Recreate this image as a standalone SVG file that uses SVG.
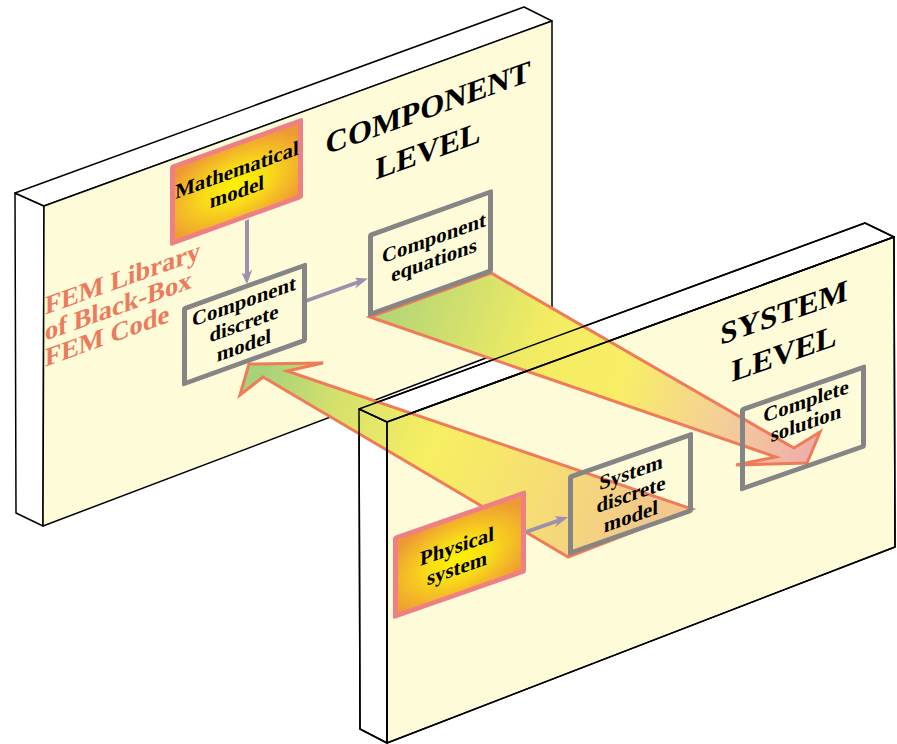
<svg xmlns="http://www.w3.org/2000/svg" width="897" height="744" viewBox="0 0 897 744">
<defs>
<style>
.face{fill:#FEFBD8;stroke:#000;stroke-width:1.5;stroke-linejoin:round}
.side{fill:#fff;stroke:#000;stroke-width:1.5;stroke-linejoin:round}
.edge{fill:none;stroke:#000;stroke-width:1.5;stroke-linejoin:round}
.gbox{fill:none;stroke:#858585;stroke-width:5;stroke-linejoin:round}
.pbox{stroke:#EF7F86;stroke-width:5;stroke-linejoin:round}
.t{font-family:"Liberation Serif","Times New Roman",serif;font-weight:bold;font-size:20.8px;fill:#000;text-anchor:middle}
.big{font-size:31px}
.fem{font-family:"Liberation Serif","Times New Roman",serif;font-weight:bold;font-size:26.5px;fill:#EC7A5C}
.conn{stroke:#9D90AD;stroke-width:4;fill:none;marker-end:url(#ah)}
.band{stroke:#EF7B58;stroke-width:3;stroke-linejoin:miter}
</style>
<marker id="ah" markerUnits="userSpaceOnUse" viewBox="0 0 13 11" markerWidth="13" markerHeight="11" refX="5" refY="5.5" orient="auto">
<path d="M0,0 L13,5.5 L0,11 L3.5,5.5 z" fill="#9D90AD"/>
</marker>
<radialGradient id="glow" cx="0.5" cy="0.55" r="0.62">
<stop offset="0" stop-color="#FFF200"/>
<stop offset="0.4" stop-color="#F9DC18"/>
<stop offset="1" stop-color="#EE9A34"/>
</radialGradient>
<linearGradient id="g1" gradientUnits="userSpaceOnUse" x1="390" y1="305" x2="805" y2="455">
<stop offset="0" stop-color="#B4D676"/>
<stop offset="0.35" stop-color="#F3EC62"/>
<stop offset="0.55" stop-color="#F8EE66"/>
<stop offset="0.8" stop-color="#F4CE98"/>
<stop offset="1" stop-color="#F0B0AA"/>
</linearGradient>
<linearGradient id="g2" gradientUnits="userSpaceOnUse" x1="640" y1="535" x2="262" y2="372">
<stop offset="0" stop-color="#F3C88C"/>
<stop offset="0.3" stop-color="#F6E070"/>
<stop offset="0.55" stop-color="#F7EF62"/>
<stop offset="0.8" stop-color="#D6E06C"/>
<stop offset="1" stop-color="#A6D27A"/>
</linearGradient>
</defs>

<g id="panel-component">
<polygon class="side" points="15,193 44,206 43,526 16,513"/>
<polygon class="side" points="15,193 524,7 552,21 44,206"/>
<polygon class="face" points="44,206 552,21 552,333 43,526"/>
</g>

<g id="panel-system">
<polygon class="side" points="359,409 387,422 387,743 360,729"/>
<polygon class="side" points="359,409 865,223 894,237 387,422"/>
<polygon class="face" points="387,422 894,237 895,547 387,743"/>
</g>

<g id="connectors">
<path class="band" fill="url(#g1)" d="M370,317 L776,457 L736,465 L807,463 L820,432 L794,448 L491,273 Z"/>
<path class="band" fill="url(#g2)" d="M568,557 L263,377 L240,395 L249,364 L323,363 L287,371 L692,509 Z"/>
<path class="conn" transform="matrix(1,-0.36,0,1,0,0)" d="M247,309 L247,365"/>
<path class="conn" transform="matrix(1,-0.36,0,1,0,0)" d="M307,411 L360,411"/>
<path class="conn" transform="matrix(1,-0.35,0,1,0,0)" d="M526,716 L560,716"/>
</g>

<g id="panel-system-edges">
<polygon class="edge" points="359,409 387,422 387,743 360,729"/>
<polygon class="edge" points="359,409 865,223 894,237 387,422"/>
<polygon class="edge" points="387,422 894,237 895,547 387,743"/>
</g>

<g transform="matrix(1,-0.36,0,1,0,0)">
<g id="mathematical-model">
<rect class="pbox" fill="url(#glow)" x="172.5" y="229" width="128" height="76"/>
<text class="t" x="237" y="262">Mathematical</text>
<text class="t" x="237" y="284">model</text>
</g>
<g id="component-discrete-model">
<rect class="gbox" x="184.5" y="375" width="120" height="75"/>
<text class="t" x="244" y="396">Component</text>
<text class="t" x="244" y="418">discrete</text>
<text class="t" x="244" y="440">model</text>
</g>
<g id="component-equations">
<rect class="gbox" x="370.5" y="368.5" width="120" height="79"/>
<text class="t" x="434" y="401">Component</text>
<text class="t" x="434" y="423">equations</text>
</g>
<g id="component-level-label">
<text class="t big" x="428" y="272">COMPONENT</text>
<text class="t big" x="428" y="315">LEVEL</text>
</g>
<g id="fem-library-label">
<text class="fem" x="45" y="331">FEM Library</text>
<text class="fem" x="45" y="357">of Black-Box</text>
<text class="fem" x="45" y="383">FEM Code</text>
</g>
</g>

<g transform="matrix(1,-0.35,0,1,0,0)">
<g id="physical-system">
<rect class="pbox" fill="url(#glow)" x="395.5" y="676.5" width="128" height="78"/>
<text class="t" x="457" y="713">Physical</text>
<text class="t" x="457" y="735">system</text>
</g>
<g id="system-discrete-model">
<rect class="gbox" x="570.5" y="676.5" width="120" height="76"/>
<text class="t" x="631" y="700">System</text>
<text class="t" x="631" y="722">discrete</text>
<text class="t" x="631" y="744">model</text>
</g>
<g id="complete-solution">
<rect class="gbox" x="742.5" y="669.5" width="121" height="79"/>
<text class="t" x="806" y="690">Complete</text>
<text class="t" x="806" y="712">solution</text>
</g>
<g id="system-level-label">
<text class="t big" x="784" y="597">SYSTEM</text>
<text class="t big" x="784" y="638">LEVEL</text>
</g>
</g>
</svg>
